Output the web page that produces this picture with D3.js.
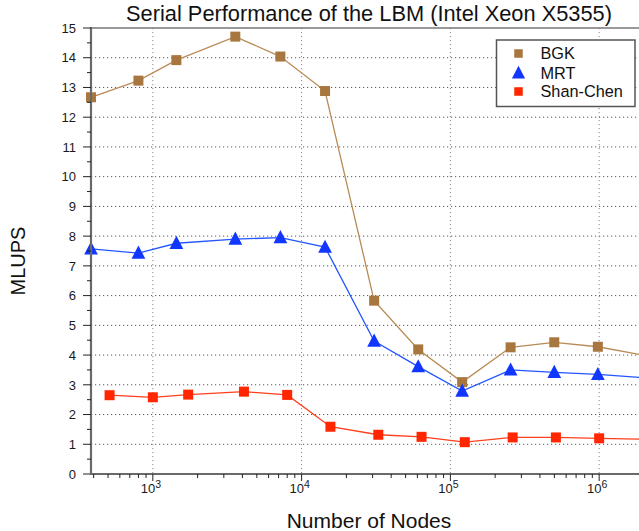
<!DOCTYPE html>
<html>
<head>
<meta charset="utf-8">
<script src="https://cdn.jsdelivr.net/npm/d3@7"></script>
<style>
  html, body { margin: 0; padding: 0; background: #fff; overflow: hidden; }
  svg { display: block; font-family: "Liberation Sans", Arial, Helvetica, sans-serif; }
</style>
</head>
<body>
<svg id="chart" width="639" height="531"></svg>
<script>
// Lattice sizes (nodes) and measured throughput (MLUPS)
const bgkNodes = [384, 800, 1440, 3584, 7200, 14375, 30720, 60800, 120000, 253952, 499200, 980000, 2064384];
const bgkMlups = [12.67, 13.23, 13.92, 14.71, 14.04, 12.88, 5.83, 4.19, 3.09, 4.26, 4.43, 4.28, 3.98];
const mrtNodes = [384, 800, 1440, 3584, 7200, 14375, 30720, 60800, 120000, 253952, 499200, 980000, 2064384];
const mrtMlups = [7.57, 7.43, 7.76, 7.90, 7.95, 7.63, 4.47, 3.61, 2.79, 3.50, 3.42, 3.35, 3.23];
const scNodes = [512, 1000, 1728, 4096, 8000, 15625, 32768, 64000, 125000, 262144, 512000, 1000000, 2097152];
const scMlups = [2.65, 2.58, 2.67, 2.77, 2.66, 1.59, 1.32, 1.25, 1.07, 1.23, 1.23, 1.20, 1.165];

const xDomain = [384, 2097152];
const yDomain = [0, 15];
const yMajorTicks = d3.range(0, 16, 1);
const yMinorTicks = d3.range(0.5, 15, 1);
const xDecades = [3, 4, 5, 6];

const seriesNames = ["BGK", "MRT", "Shan-Chen"];
const titleText = "Serial Performance of the LBM (Intel Xeon X5355)";
const xLabel = "Number of Nodes";
const yLabel = "MLUPS";

const series = [
  { name: seriesNames[0], nodes: bgkNodes, values: bgkMlups, shape: "square", fill: "#A8773F", line: "#B98A55", size: 10 },
  { name: seriesNames[1], nodes: mrtNodes, values: mrtMlups, shape: "triangle", fill: "#1036FF", line: "#2456FF", size: 12.5 },
  { name: seriesNames[2], nodes: scNodes, values: scMlups, shape: "square", fill: "#FF2600", line: "#FF3F1E", size: 10 }
];

const plotL = 91, plotR = 647, plotT = 28, plotB = 474;
const svg = d3.select("#chart");

const x = d3.scaleLog().domain(xDomain).range([plotL, plotR]);
const y = d3.scaleLinear().domain(yDomain).range([plotB, plotT]);

// dotted grid
const grid = svg.append("g");
grid.selectAll("line.h").data(yMajorTicks.filter(v => v > 0 && v < 15)).join("line")
  .attr("x1", plotL).attr("x2", plotR)
  .attr("y1", d => y(d)).attr("y2", d => y(d))
  .attr("stroke", "#555").attr("stroke-width", 1).attr("stroke-dasharray", "1.2,2.8");
grid.selectAll("line.v").data(xDecades).join("line")
  .attr("x1", d => x(Math.pow(10, d))).attr("x2", d => x(Math.pow(10, d)))
  .attr("y1", plotT).attr("y2", plotB)
  .attr("stroke", "#888").attr("stroke-width", 1).attr("stroke-dasharray", "1.2,2.8");

// top frame
svg.append("line").attr("x1", plotL).attr("x2", plotR).attr("y1", plotT).attr("y2", plotT)
  .attr("stroke", "#777").attr("stroke-width", 1.5);

// series lines and markers
const line = d3.line().x(d => x(d[0])).y(d => y(d[1]));

function drawMarker(g, shape, cx, cy, size, fill) {
  if (shape === "square") {
    g.append("rect").attr("x", cx - size / 2).attr("y", cy - size / 2)
      .attr("width", size).attr("height", size).attr("fill", fill);
  } else {
    const h = size, w = size * 1.1;
    g.append("path")
      .attr("d", `M${cx},${cy - h * 0.6}L${cx + w / 2},${cy + h * 0.45}L${cx - w / 2},${cy + h * 0.45}Z`)
      .attr("fill", fill);
  }
}

series.forEach(s => {
  const pts = s.nodes.map((n, i) => [n, s.values[i]]);
  svg.append("path").datum(pts).attr("d", line)
    .attr("fill", "none").attr("stroke", s.line).attr("stroke-width", 1.3);
  const g = svg.append("g");
  pts.forEach(p => drawMarker(g, s.shape, x(p[0]), y(p[1]), s.size, s.fill));
});

// y axis
const yAxis = svg.append("g");
yAxis.append("line").attr("x1", plotL).attr("x2", plotL).attr("y1", plotT - 1).attr("y2", plotB + 1)
  .attr("stroke", "#6a6a6a").attr("stroke-width", 2.2);
yAxis.selectAll("line.maj").data(yMajorTicks).join("line")
  .attr("x1", plotL - 8).attr("x2", plotL).attr("y1", d => y(d)).attr("y2", d => y(d))
  .attr("stroke", "#222").attr("stroke-width", 1);
yAxis.selectAll("line.min").data(yMinorTicks).join("line")
  .attr("x1", plotL - 4).attr("x2", plotL).attr("y1", d => y(d)).attr("y2", d => y(d))
  .attr("stroke", "#222").attr("stroke-width", 1);
yAxis.selectAll("text").data(yMajorTicks).join("text")
  .attr("x", 76).attr("y", d => y(d) + 4.7)
  .attr("text-anchor", "end").attr("font-size", 13).attr("fill", "#1a1a1a")
  .text(d => d);

// x axis
const xAxis = svg.append("g");
xAxis.append("line").attr("x1", plotL - 1).attr("x2", plotR).attr("y1", plotB).attr("y2", plotB)
  .attr("stroke", "#6a6a6a").attr("stroke-width", 2.2);
const minorX = [];
for (let e = 2; e <= 6; e++) for (let m = 1; m <= 9; m++) {
  const v = m * Math.pow(10, e);
  if (v >= xDomain[0] && v <= xDomain[1]) minorX.push({ v, major: m === 1 });
}
xAxis.selectAll("line.t").data(minorX).join("line")
  .attr("x1", d => x(d.v)).attr("x2", d => x(d.v))
  .attr("y1", plotB).attr("y2", d => plotB + (d.major ? 7 : 4))
  .attr("stroke", "#222").attr("stroke-width", 1);
const xl = xAxis.selectAll("text").data(xDecades).join("text")
  .attr("x", d => x(Math.pow(10, d)) - 2).attr("y", 493)
  .attr("text-anchor", "middle").attr("font-size", 13).attr("fill", "#1a1a1a");
xl.append("tspan").text("10");
xl.append("tspan").attr("dy", -5.5).attr("font-size", 10.5).text(d => d);

// titles
svg.append("text").attr("x", (plotL + plotR) / 2).attr("y", 21)
  .attr("text-anchor", "middle").attr("font-size", 21.8).attr("fill", "#111").text(titleText);
svg.append("text").attr("x", (plotL + plotR) / 2).attr("y", 528)
  .attr("text-anchor", "middle").attr("font-size", 21).attr("fill", "#111").text(xLabel);
svg.append("text").attr("transform", "translate(25,261) rotate(-90)")
  .attr("text-anchor", "middle").attr("font-size", 20).attr("fill", "#111").text(yLabel);

// legend
const lg = svg.append("g");
lg.append("rect").attr("x", 496.5).attr("y", 40).attr("width", 138.5).attr("height", 66.5)
  .attr("fill", "#fff").attr("stroke", "#555").attr("stroke-width", 1.5);
const legendRows = [53.5, 73, 91.5];
series.forEach((s, i) => {
  drawMarker(lg, s.shape, 518.5, legendRows[i], s.shape === "square" ? 8.5 : 12, s.fill);
  lg.append("text").attr("x", 540.5).attr("y", legendRows[i] + 5.8)
    .attr("font-size", 16.3).attr("fill", "#111").text(s.name);
});
</script>
</body>
</html>
